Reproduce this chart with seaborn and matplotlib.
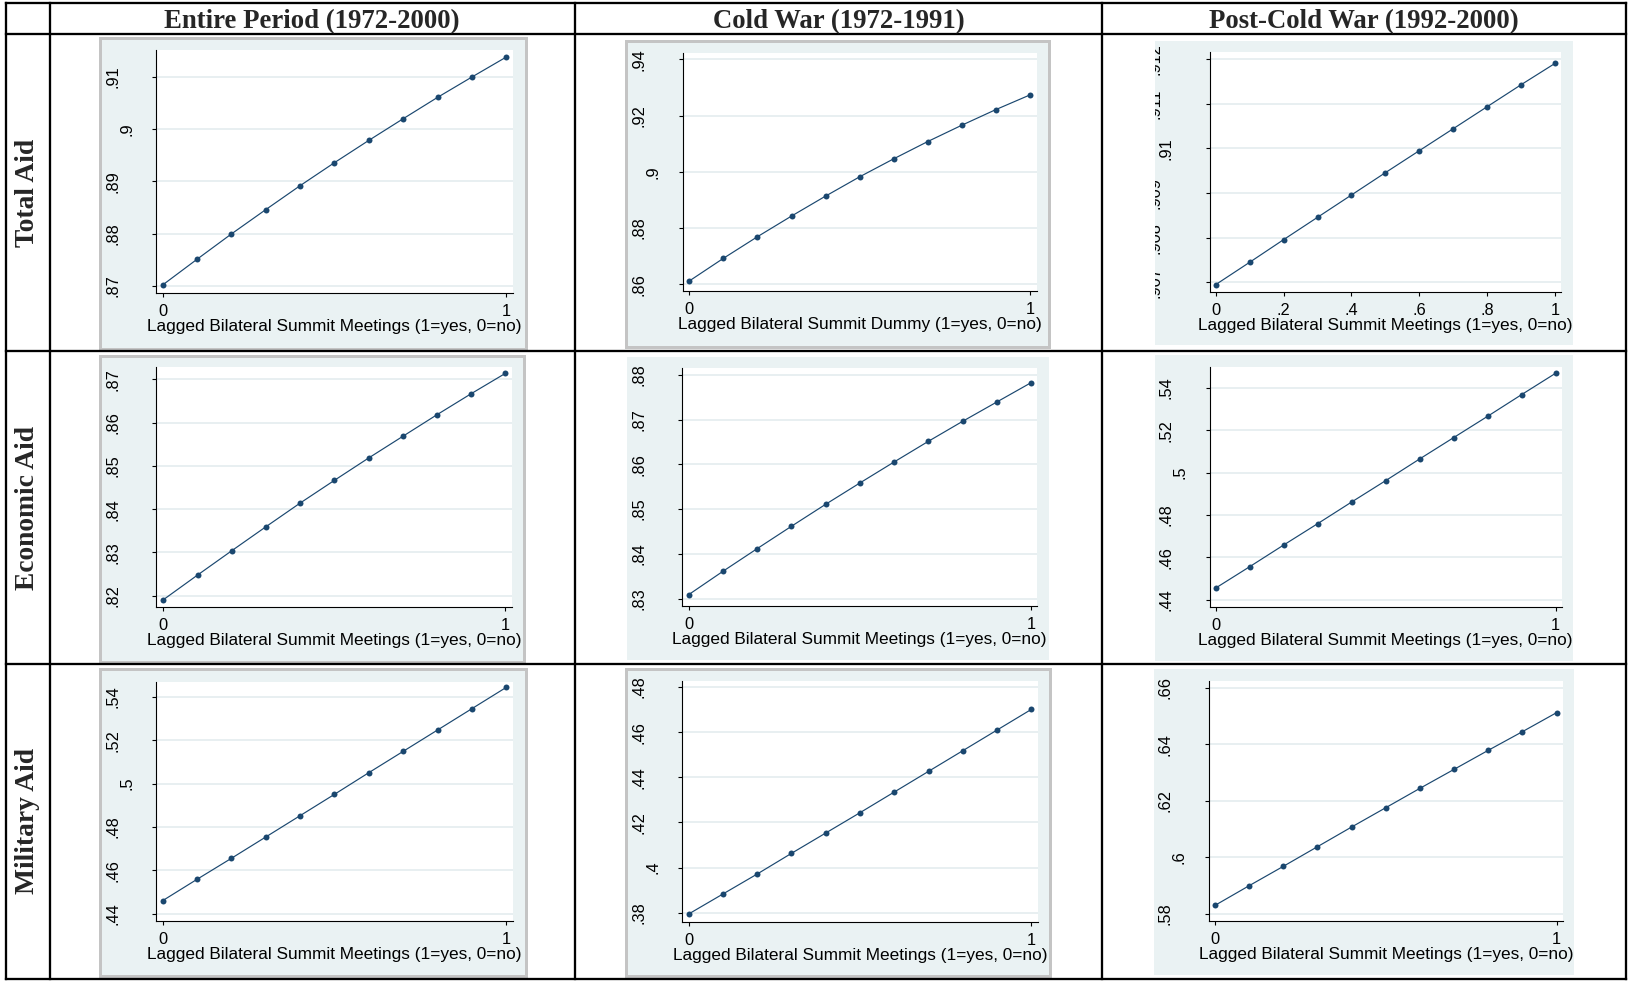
import numpy as np
import pandas as pd
import matplotlib
matplotlib.use("Agg")
import matplotlib.pyplot as plt
import seaborn as sns
from matplotlib.patches import Rectangle
from matplotlib.lines import Line2D
from matplotlib.transforms import Bbox, TransformedBbox, offset_copy

sns.set_theme(style="white")
plt.rcParams['font.family'] = ['Liberation Sans', 'DejaVu Sans']

# ---------------- data ----------------
col_titles = ["Entire Period (1972-2000)", "Cold War (1972-1991)", "Post-Cold War (1992-2000)"]
row_titles = ["Total Aid", "Economic Aid", "Military Aid"]
xlabel_meetings = "Lagged Bilateral Summit Meetings (1=yes, 0=no)"
xlabel_dummy = "Lagged Bilateral Summit Dummy (1=yes, 0=no)"

summit = [0.0, 0.1, 0.2, 0.3, 0.4, 0.5, 0.6, 0.7, 0.8, 0.9, 1.0]

total_entire = [.87019, .87510, .87994, .88459, .88917, .89357, .89783, .90197, .90605, .90994, .91376]
total_cold = [.86118, .86923, .87692, .88426, .89136, .89822, .90462, .91077, .91657, .92213, .92734]
total_post = [.906948, .907448, .907955, .908455, .908955, .909455, .909948, .910440, .910933, .911425, .911903]
econ_entire = [.81908, .82478, .83040, .83595, .84142, .84666, .85182, .85683, .86183, .86669, .87139]
econ_cold = [.83089, .83610, .84116, .84615, .85106, .85582, .86051, .86512, .86958, .87390, .87821]
econ_post = [.44551, .45559, .46583, .47591, .48614, .49622, .50646, .51654, .52661, .53685, .54693]
mil_entire = [.44600, .45585, .46554, .47538, .48523, .49508, .50508, .51492, .52477, .53462, .54446]
mil_cold = [.37941, .38827, .39713, .40629, .41530, .42431, .43347, .44263, .45179, .46095, .47010]
mil_post = [.58295, .58991, .59676, .60372, .61068, .61752, .62437, .63109, .63782, .64442, .65115]

yt_total_entire = [.87, .88, .89, .90, .91]
yl_total_entire = [".87", ".88", ".89", ".9", ".91"]
yt_total_cold = [.86, .88, .90, .92, .94]
yl_total_cold = [".86", ".88", ".9", ".92", ".94"]
yt_total_post = [.907, .908, .909, .910, .911, .912]
yl_total_post = [".907", ".908", ".909", ".91", ".911", ".912"]
yt_econ_entire = [.82, .83, .84, .85, .86, .87]
yl_econ_entire = [".82", ".83", ".84", ".85", ".86", ".87"]
yt_econ_cold = [.83, .84, .85, .86, .87, .88]
yl_econ_cold = [".83", ".84", ".85", ".86", ".87", ".88"]
yt_econ_post = [.44, .46, .48, .50, .52, .54]
yl_econ_post = [".44", ".46", ".48", ".5", ".52", ".54"]
yt_mil_entire = [.44, .46, .48, .50, .52, .54]
yl_mil_entire = [".44", ".46", ".48", ".5", ".52", ".54"]
yt_mil_cold = [.38, .40, .42, .44, .46, .48]
yl_mil_cold = [".38", ".4", ".42", ".44", ".46", ".48"]
yt_mil_post = [.58, .60, .62, .64, .66]
yl_mil_post = [".58", ".6", ".62", ".64", ".66"]

xt_two = [0, 1]
xl_two = ["0", "1"]
xt_six = [0, .2, .4, .6, .8, 1]
xl_six = ["0", ".2", ".4", ".6", ".8", "1"]

# ---------------- layout (pixels) ----------------
W, H = 1629, 981
DPI = 100
NAVY = "#1A476F"
BG = "#EAF2F3"
GRID = "#E6EEF0"
FRAME = "#C4C4C4"

panels = [
    dict(bg=(98.7, 36, 527.3, 350), plot=(156.1, 50, 512.8, 292.7), x0=162.6, x1=506.3,
         ycal=(.87, 286, .91, 76.7), frame=True, y=total_entire, yt=yt_total_entire, yl=yl_total_entire,
         xt=xt_two, xl=xl_two, lab=xlabel_meetings),
    dict(bg=(625, 39.3, 1050.7, 348.3), plot=(682.9, 52.7, 1037, 291), x0=689.3, x1=1030,
         ycal=(.86, 284.3, .94, 59.3), frame=True, y=total_cold, yt=yt_total_cold, yl=yl_total_cold,
         xt=xt_two, xl=xl_two, lab=xlabel_dummy),
    dict(bg=(1155, 40.7, 1573, 345), plot=(1209.6, 52.3, 1561.2, 291.7), x0=1215.7, x1=1555.1,
         ycal=(.907, 282.3, .912, 59), frame=False, y=total_post, yt=yt_total_post, yl=yl_total_post,
         xt=xt_six, xl=xl_six, lab=xlabel_meetings),
    dict(bg=(98.7, 354, 525, 663.3), plot=(156.1, 366.7, 512, 606.7), x0=163.4, x1=505.5,
         ycal=(.82, 595.7, .87, 379.3), frame=True, y=econ_entire, yt=yt_econ_entire, yl=yl_econ_entire,
         xt=xt_two, xl=xl_two, lab=xlabel_meetings),
    dict(bg=(627.5, 357.3, 1049, 660), plot=(682.1, 368.3, 1037, 605.7), x0=688.6, x1=1031,
         ycal=(.83, 598.7, .88, 374.7), frame=False, y=econ_cold, yt=yt_econ_cold, yl=yl_econ_cold,
         xt=xt_two, xl=xl_two, lab=xlabel_meetings),
    dict(bg=(1155, 355, 1573, 660.7), plot=(1209.6, 366.7, 1561.5, 606.7), x0=1215.7, x1=1555.5,
         ycal=(.44, 599.7, .54, 388), frame=False, y=econ_post, yt=yt_econ_post, yl=yl_econ_post,
         xt=xt_two, xl=xl_two, lab=xlabel_meetings),
    dict(bg=(98.7, 667.3, 527.3, 977), plot=(156.1, 681.7, 512.8, 920.7), x0=162.6, x1=506.3,
         ycal=(.44, 913.7, .54, 697), frame=True, y=mil_entire, yt=yt_mil_entire, yl=yl_mil_entire,
         xt=xt_two, xl=xl_two, lab=xlabel_meetings),
    dict(bg=(625, 667.3, 1051.4, 977), plot=(682.1, 681, 1037.5, 921.7), x0=688.6, x1=1031.4,
         ycal=(.38, 912.7, .48, 687), frame=True, y=mil_cold, yt=yt_mil_cold, yl=yl_mil_cold,
         xt=xt_two, xl=xl_two, lab=xlabel_meetings),
    dict(bg=(1154, 669, 1574, 975), plot=(1208.6, 681, 1563.2, 920.7), x0=1215, x1=1556.5,
         ycal=(.58, 913.7, .66, 687.7), frame=False, y=mil_post, yt=yt_mil_post, yl=yl_mil_post,
         xt=xt_two, xl=xl_two, lab=xlabel_meetings),
]

fig = plt.figure(figsize=(W / DPI, H / DPI), dpi=DPI)
fig.patch.set_facecolor("white")

bgax = fig.add_axes([0, 0, 1, 1], zorder=0)
bgax.set_xlim(0, W)
bgax.set_ylim(H, 0)
bgax.axis("off")

for p in panels:
    l, t, r, b = p["bg"]
    if p["frame"]:
        bgax.add_patch(Rectangle((l + 1.5, t + 1.5), r - l - 3, b - t - 3, facecolor=BG,
                                 edgecolor=FRAME, linewidth=3 * 72 / DPI))
    else:
        bgax.add_patch(Rectangle((l, t), r - l, b - t, facecolor=BG, edgecolor="none"))

LW = 2.3 * 72 / DPI
xl_, xr_ = 5.7, 1626
yt_, yb_ = 3, 979
for y in [yt_, 34, 351, 664, yb_]:
    bgax.add_line(Line2D([xl_, xr_], [y, y], color="black", lw=LW, solid_capstyle="projecting"))
for x in [xl_, 49.7, 575, 1102, xr_]:
    bgax.add_line(Line2D([x, x], [yt_, yb_], color="black", lw=LW, solid_capstyle="projecting"))

serif = ['Liberation Serif', 'DejaVu Serif']
col_centers = [312, 838.5, 1364]
for cx, txt in zip(col_centers, col_titles):
    bgax.text(cx, 28.5, txt, ha="center", va="baseline", fontsize=19.3, fontweight="bold", family=serif)
row_centers = [192.5, 507.5, 821.5]
for cy, txt in zip(row_centers, row_titles):
    bgax.text(28, cy, txt, ha="center", va="center", rotation=90, fontsize=19.8,
              fontweight="bold", family=serif)

for p in panels:
    pl, pt, pr, pb = p["plot"]
    ax = fig.add_axes([pl / W, 1 - pb / H, (pr - pl) / W, (pb - pt) / H], zorder=1)
    ax.set_facecolor("white")
    x0, x1 = p["x0"], p["x1"]
    xs = 1.0 / (x1 - x0)
    ax.set_xlim(-(x0 - pl) * xs, 1 + (pr - x1) * xs)
    va, pa, vb, pb_ = p["ycal"]
    ys = (vb - va) / (pa - pb_)
    ax.set_ylim(va - (pb - pa) * ys, vb + (pb_ - pt) * ys)

    df = pd.DataFrame({"x": summit, "y": p["y"]})
    sns.lineplot(data=df, x="x", y="y", ax=ax, color=NAVY, linewidth=0.85,
                 marker="o", markersize=4.3, markeredgewidth=0, zorder=3)
    ax.set_xlabel("")
    ax.set_ylabel("")

    ax.set_yticks(p["yt"])
    ax.set_xticks(p["xt"])
    ax.set_xticklabels(p["xl"], fontsize=11.5)
    ax.tick_params(axis="y", left=True, labelleft=False, direction="out",
                   length=3.0, width=0.8, color="black")
    ax.tick_params(axis="x", bottom=True, direction="out", length=3.2, width=0.8,
                   color="black", pad=4.8, labelsize=11.8, labelcolor="black")
    ax.grid(axis="y", color=GRID, linewidth=1.3)
    ax.grid(axis="x", visible=False)
    ax.set_axisbelow(True)
    for s in ["top", "right"]:
        ax.spines[s].set_visible(False)
    for s in ["left", "bottom"]:
        ax.spines[s].set_color("black")
        ax.spines[s].set_linewidth(0.8)

    bl, bt, br, bb = p["bg"]
    clip = TransformedBbox(Bbox([[bl / W, 1 - bb / H], [br / W, 1 - bt / H]]), fig.transFigure)
    for v, s in zip(p["yt"], p["yl"]):
        off = {1: 16.0, 2: 29.5, 3: 43.5, 4: 55.0}[len(s)]
        tr = offset_copy(ax.get_yaxis_transform(), fig=fig, x=-off, y=0, units="dots")
        t = ax.text(0, v, s, transform=tr, rotation=90, ha="center", va="center",
                    fontsize=11.8, color="black", clip_on=True)
        t.set_clip_box(clip)

    tr = offset_copy(ax.transAxes, fig=fig, x=0, y=-38.3, units="dots")
    ax.text(0.5, 0, p["lab"], transform=tr, ha="center", va="baseline", fontsize=12.4, color="black")

fig.savefig("out.png", dpi=DPI, facecolor="white")
